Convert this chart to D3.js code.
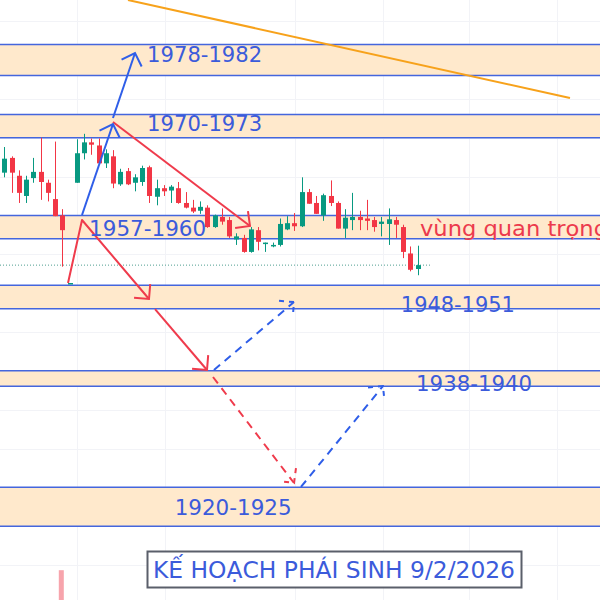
<!DOCTYPE html>
<html><head><meta charset="utf-8">
<script src="https://cdn.jsdelivr.net/npm/d3@7"></script>
<style>html,body{margin:0;padding:0;background:#fff}svg{display:block}</style>
</head><body>
<svg id="chart" width="600" height="600"></svg>
<script>
// ---- Data (index-based bars, prices) ----
const candleOpen  = [1965.5,1967.4,1965.1,1962.5,1964.8,1965.6,1964.2,1962.1,1960.0,1951.3,1964.2,1968.0,1969.4,1969.0,1966.7,1967.6,1964.0,1965.7,1964.2,1964.3,1966.2,1962.4,1963.5,1963.2,1963.5,1961.6,1961.0,1960.6,1961.0,1958.5,1959.8,1959.4,1956.9,1957.1,1955.3,1958.1,1956.4,1956.1,1956.2,1958.2,1959.0,1958.6,1963.0,1961.6,1960.0,1962.5,1961.6,1958.3,1959.4,1959.8,1959.6,1959.4,1958.9,1958.9,1959.4,1958.5,1955.1,1953.1];
const candleHigh  = [1968.8,1967.6,1965.8,1965.1,1967.4,1970.0,1964.6,1969.5,1960.8,1951.3,1969.8,1970.5,1969.9,1969.9,1968.5,1968.4,1966.0,1966.1,1965.3,1966.4,1966.4,1964.6,1963.9,1963.9,1964.3,1963.0,1962.0,1961.8,1961.3,1960.1,1960.9,1959.8,1957.7,1957.5,1958.5,1958.5,1956.5,1956.5,1959.6,1959.9,1960.3,1964.9,1963.4,1962.5,1962.8,1964.5,1961.8,1960.8,1962.9,1960.6,1962.0,1959.8,1959.8,1960.9,1959.8,1958.8,1956.0,1956.1];
const candleLow   = [1964.9,1962.9,1961.6,1961.6,1964.2,1962.0,1961.8,1959.9,1953.4,1951.3,1964.2,1967.2,1967.8,1966.5,1966.1,1963.5,1963.8,1963.9,1963.1,1963.8,1961.6,1961.3,1962.5,1961.6,1961.5,1960.9,1960.3,1960.2,1958.4,1958.4,1958.8,1957.1,1956.2,1955.2,1955.2,1955.5,1955.3,1955.9,1956.0,1958.1,1958.0,1958.5,1961.5,1960.2,1959.3,1961.2,1958.3,1957.1,1958.1,1958.1,1958.1,1957.9,1957.3,1956.2,1957.1,1954.5,1952.8,1952.3];
const candleClose = [1967.3,1965.5,1962.9,1964.6,1965.6,1964.3,1962.9,1959.9,1958.1,1951.3,1968.0,1969.4,1969.1,1966.7,1968.0,1964.1,1965.6,1964.0,1964.9,1966.1,1962.5,1963.5,1963.1,1963.7,1961.6,1961.0,1960.5,1961.1,1958.5,1960.0,1959.2,1957.3,1957.3,1955.3,1958.2,1956.6,1956.5,1956.2,1958.9,1959.0,1958.6,1963.0,1961.5,1960.2,1962.6,1961.6,1958.3,1959.7,1959.8,1959.4,1959.3,1958.5,1959.2,1959.5,1958.8,1955.3,1953.0,1953.6];

const volumeIndex = [8];
const volumeValue = [8.3];

const zoneLow   = [1978, 1970, 1957, 1948, 1938, 1920];
const zoneHigh  = [1982, 1973, 1960, 1951, 1940, 1925];

const labelText  = ["1978-1982","1970-1973","1957-1960","1948-1951","1938-1940","1920-1925"];
const labelBar   = [19.7, 19.7, 11.7, 54.7, 56.8, 23.5];
const labelPrice = [1979.8, 1970.9, 1957.4, 1947.6, 1937.4, 1921.5];

const noteText = "vùng quan trọng";
const titleText = "KẾ HOẠCH PHÁI SINH 9/2/2026";

const lastPrice = 1953.6;
const priceGrid = [1985,1980,1975,1970,1965,1960,1955,1950,1945,1940,1935,1930,1925,1920,1915];
const timeGrid  = [10, 22.2, 40.1, 52.2, 64.1, 76.2];

// trend line (bar index, price)
const trendBars   = [17.06, 78.03];
const trendPrices = [1987.72, 1975.11];

// arrows: [bar, price] polylines
const arrowNames  = ["red1","red2","red3","redDash","blue1","blue2","blueDash1","blueDash2"];
const arrowBars   = [[8.79,10.72,19.96],[20.79,27.96],[14.99,33.89],[28.79,39.96],[10.72,14.99],[14.99,18.03],[28.92,39.96],[40.92,52.23]];
const arrowPrices = [[1951.30,1959.41,1949.24],[1947.95,1940.10],[1972.02,1958.64],[1939.20,1925.56],[1960.05,1971.76],[1972.54,1980.90],[1940.10,1948.85],[1925.05,1938.04]];
const arrowColor  = ["red","red","red","red","blue","blue","blue","blue"];
const arrowDashed = [false,false,false,true,false,false,true,true];

// ---- Drawing ----
const W = 600, H = 600;
const svg = d3.select("#chart");
const x = d3.scaleLinear().domain([-0.593, 82.17]).range([0, W]);
const y = d3.scaleLinear().domain([1987.722, 1910.502]).range([0, H]);
const vol = d3.scaleLinear().domain([0, 10]).range([620, 560]);

const UP = "#089981", DOWN = "#f23645";
const BLUE_LINE = "#4466dd", BLUE_TXT = "#3b5bdb";
const RED = "#ef3b4c", BLUEA = "#2f5ee8";

// grid
svg.append("g").selectAll("line").data(priceGrid).join("line")
  .attr("x1",0).attr("x2",W).attr("y1",d=>Math.round(y(d))+0.5).attr("y2",d=>Math.round(y(d))+0.5)
  .attr("stroke","#f2f3f7").attr("stroke-width",1);
svg.append("g").selectAll("line").data(timeGrid).join("line")
  .attr("y1",0).attr("y2",H).attr("x1",d=>Math.round(x(d))+0.5).attr("x2",d=>Math.round(x(d))+0.5)
  .attr("stroke","#f2f3f7").attr("stroke-width",1);

// zones
const zones = zoneLow.map((l,i)=>({l, h: zoneHigh[i]}));
svg.append("g").selectAll("rect").data(zones).join("rect")
  .attr("x",0).attr("width",W).attr("y",d=>y(d.h)).attr("height",d=>y(d.l)-y(d.h))
  .attr("fill","#ffe9cc");
const zoneEdges = zoneLow.concat(zoneHigh);
svg.append("g").selectAll("line").data(zoneEdges).join("line")
  .attr("x1",0).attr("x2",W).attr("y1",d=>y(d)).attr("y2",d=>y(d))
  .attr("stroke",BLUE_LINE).attr("stroke-width",1.5);

// volume
svg.append("g").selectAll("rect").data(volumeIndex.map((i,k)=>({i, v: volumeValue[k]}))).join("rect")
  .attr("x",d=>x(d.i)-3.5).attr("width",5).attr("y",d=>vol(d.v)).attr("height",d=>vol(0)-vol(d.v))
  .attr("fill","#f7a4ac");

// last price line
svg.append("line").attr("x1",0).attr("x2",430).attr("y1",y(lastPrice)).attr("y2",y(lastPrice))
  .attr("stroke","#4e9f90").attr("stroke-width",1).attr("stroke-dasharray","1,2");

// candles
const candles = candleOpen.map((o,i)=>({i, o, h: candleHigh[i], l: candleLow[i], c: candleClose[i]}));
const cg = svg.append("g").selectAll("g").data(candles).join("g");
cg.append("line")
  .attr("x1",d=>Math.round(x(d.i))+0.5).attr("x2",d=>Math.round(x(d.i))+0.5)
  .attr("y1",d=>y(d.h)).attr("y2",d=>y(d.l)+ (d.h===d.l?1:0))
  .attr("stroke",d=>d.c>=d.o?UP:DOWN).attr("stroke-width",1);
cg.append("rect")
  .attr("x",d=>Math.round(x(d.i))-2).attr("width",5)
  .attr("y",d=>y(Math.max(d.o,d.c)))
  .attr("height",d=>Math.max(1.5, Math.abs(y(d.o)-y(d.c))))
  .attr("fill",d=>d.c>=d.o?UP:DOWN);

// trend line
svg.append("line")
  .attr("x1",x(trendBars[0])).attr("y1",y(trendPrices[0]))
  .attr("x2",x(trendBars[1])).attr("y2",y(trendPrices[1]))
  .attr("stroke","#f7a21b").attr("stroke-width",2);

// arrows
arrowNames.forEach((nm,k)=>{
  const pts = arrowBars[k].map((b,j)=>[x(b), y(arrowPrices[k][j])]);
  const col = arrowColor[k]==="red" ? RED : BLUEA;
  const g = svg.append("g");
  const p = g.append("path").attr("d", d3.line()(pts))
    .attr("fill","none").attr("stroke",col).attr("stroke-width",2).attr("stroke-linejoin","round");
  if (arrowDashed[k]) p.attr("stroke-dasharray","8,6");
  const [x1,y1] = pts[pts.length-2], [x2,y2] = pts[pts.length-1];
  const ang = Math.atan2(y1-y2, x1-x2);
  const L = 15;
  const w1 = [x2 + L*Math.cos(ang+Math.PI/4), y2 + L*Math.sin(ang+Math.PI/4)];
  const w2 = [x2 + L*Math.cos(ang-Math.PI/4), y2 + L*Math.sin(ang-Math.PI/4)];
  const hd = g.append("path").attr("d", d3.line()([w1,[x2,y2],w2]))
    .attr("fill","none").attr("stroke",col).attr("stroke-width",2).attr("stroke-linejoin","miter");
  if (arrowDashed[k]) hd.attr("stroke-dasharray","5,5");
});

// zone labels
const labelWidth = [115,115,117,114,116,117];
svg.append("g").selectAll("text").data(labelText).join("text")
  .attr("x",(d,i)=>x(labelBar[i])).attr("y",(d,i)=>y(labelPrice[i]))
  .attr("font-family","DejaVu Sans, sans-serif").attr("font-size",22)
  .attr("textLength",(d,i)=>labelWidth[i]).attr("lengthAdjust","spacingAndGlyphs")
  .attr("fill",BLUE_TXT).text(d=>d);

// note
svg.append("text").attr("x",420).attr("y",y(1957.4))
  .attr("font-family","DejaVu Sans, sans-serif").attr("font-size",21)
  .attr("textLength",188).attr("lengthAdjust","spacingAndGlyphs")
  .attr("fill","#ec3a4d").text(noteText);

// title box
svg.append("rect").attr("x",147.5).attr("y",551.5).attr("width",374).attr("height",36)
  .attr("fill","#fff").attr("stroke","#5a5f6a").attr("stroke-width",2);
svg.append("text").attr("x",153).attr("y",578)
  .attr("font-family","DejaVu Sans, sans-serif").attr("font-size",23)
  .attr("textLength",362).attr("lengthAdjust","spacingAndGlyphs")
  .attr("fill",BLUE_TXT).text(titleText);
</script>
</body></html>
